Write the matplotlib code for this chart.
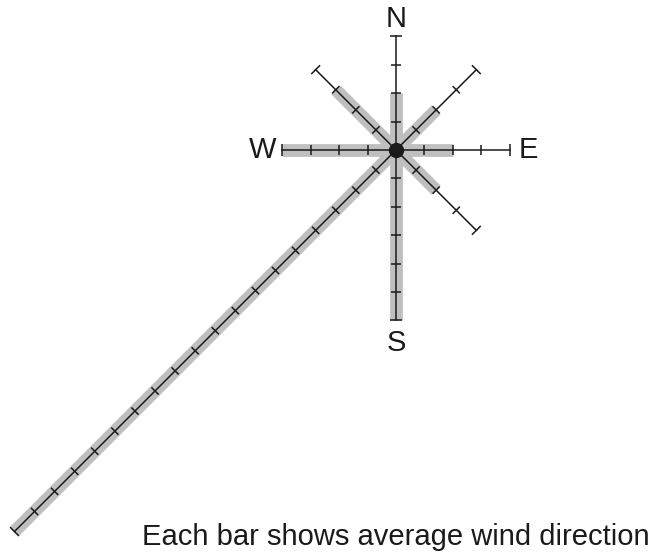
import numpy as np
import matplotlib
matplotlib.use("Agg")
import matplotlib.pyplot as plt

matplotlib.rcParams['font.family'] = ['Liberation Sans', 'DejaVu Sans']

# wind directions (compass), average values shown by grey bars,
# and length of the ticked scale line drawn on each arm
directions = ["N", "NE", "E", "SE", "S", "SW", "W", "NW"]
bearings = [0, 45, 90, 135, 180, 225, 270, 315]
averages = [2, 2, 2, 2, 6, 19, 4, 3]
scale_len = [4, 4, 4, 4, 6, 19, 4, 4]

fig = plt.figure(figsize=(6.54, 5.56), dpi=100)
ax = fig.add_axes([0, 0, 1, 1])
unit = 28.4  # pixels per tick
cx, cy = 396, 556 - 150
ax.set_xlim(-cx / unit, (654 - cx) / unit)
ax.set_ylim(-cy / unit, (556 - cy) / unit)
ax.set_aspect("equal")
ax.axis("off")

ink = "#1a1a1a"
tick = 0.18
cap = 0.22
for d, b, avg in zip(directions, bearings, averages):
	th = np.radians(b)
	ux, uy = np.sin(th), np.cos(th)
	# grey bar
	ax.plot([0, avg * ux], [0, avg * uy], color="#bfbfbf", lw=9.2, solid_capstyle="butt", zorder=1)
for d, b, L in zip(directions, bearings, scale_len):
	th = np.radians(b)
	ux, uy = np.sin(th), np.cos(th)
	px, py = -uy, ux
	ax.plot([0, L * ux], [0, L * uy], color=ink, lw=1.1, zorder=2)
	for k in range(1, L + 1):
		h = cap if k == L else tick
		ax.plot([k * ux - h * px, k * ux + h * px], [k * uy - h * py, k * uy + h * py],
			color=ink, lw=1.1, solid_capstyle="butt", zorder=2)

ax.plot(0, 0, "o", color=ink, ms=10, zorder=3)

ax.text(0, 4.6, "N", ha="center", va="center", fontsize=21, color=ink)
ax.text(4.65, 0, "E", ha="center", va="center", fontsize=21, color=ink)
ax.text(-4.7, 0, "W", ha="center", va="center", fontsize=21, color=ink)
ax.text(0, -6.8, "S", ha="center", va="center", fontsize=21, color=ink)

fig.text(142 / 654, 11 / 556, "Each bar shows average wind direction", ha="left", va="baseline",
	fontsize=21, color=ink)

plt.savefig("out.png", dpi=100)
